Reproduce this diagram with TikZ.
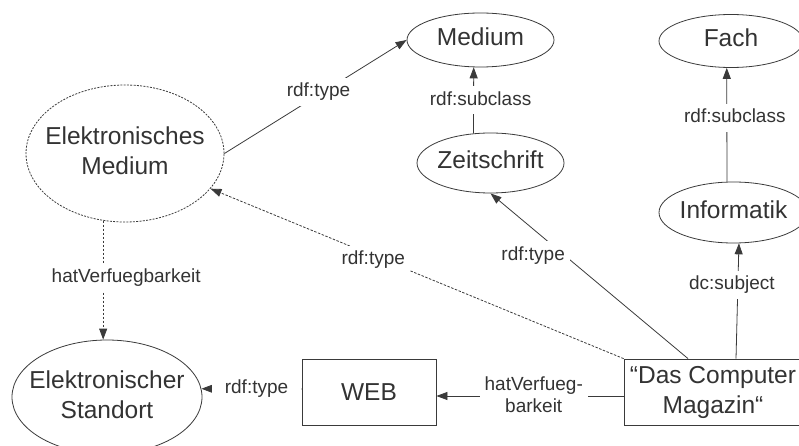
\documentclass[tikz,border=0pt]{standalone}
\usepackage{fontspec}
\setmainfont{Liberation Sans}
\usetikzlibrary{arrows.meta,shapes.geometric,calc}
\definecolor{ink}{HTML}{333333}
\definecolor{edge}{HTML}{3A3A3A}
% centred, zero-width text so the ellipse size comes from minimum width/height
\newcommand\ctext[1]{\makebox[0pt]{\begin{tabular}{@{}c@{}}#1\end{tabular}}}
\begin{document}
\begin{tikzpicture}[x=1pt,y=-1pt,
  every node/.style={text=ink},
  concept/.style={ellipse, draw=edge, line width=0.8pt, inner sep=0pt,
    font=\fontsize{24.5}{30}\selectfont},
  vconcept/.style={concept, dash pattern=on 2pt off 1.3pt},
  instance/.style={rectangle, draw=edge, line width=0.8pt, inner sep=0pt,
    align=center, font=\fontsize{24.5}{30}\selectfont},
  rel/.style={draw=edge, line width=0.8pt, -{Triangle[length=11pt,width=8pt]}},
  vrel/.style={rel, dash pattern=on 2.5pt off 1.5pt},
  lbl/.style={fill=white, inner sep=5pt, text height=14pt, text depth=4pt,
    font=\fontsize{19}{22}\selectfont},
  lbltwo/.style={fill=white, inner sep=5pt, align=center,
    font=\fontsize{19}{22}\selectfont}]
\clip (0,0) rectangle (799,446);

% classes
\node[concept, minimum width=147pt, minimum height=54pt] (med) at (480.5,40) {\ctext{Medium}};
\node[concept, minimum width=144pt, minimum height=53pt] (fach) at (731,41) {\ctext{Fach}};
\node[concept, minimum width=147pt, minimum height=60pt] (zs) at (490.5,163) {\ctext{Zeitschrift}};
\node[concept, minimum width=149pt, minimum height=61pt] (inf) at (733.5,212.5) {\ctext{Informatik}};
\node[vconcept, minimum width=198pt, minimum height=137pt] (em) at (125,153.5) {\ctext{Elektronisches\\Medium}};
\node[concept, minimum width=190pt, minimum height=114pt] (es) at (107,397) {\ctext{Elektronischer\\Standort}};

% instances
\node[instance, minimum width=134pt, minimum height=66pt] (web) at (369,392) {WEB};
\node[instance, minimum width=178pt, minimum height=66pt] (dcm) at (713,392) {“Das Computer\\Magazin“};

% relations
\draw[rel] (em.east) -- node[lbl, pos=.5, xshift=3pt, yshift=5pt] {rdf:type} (med.west);
\draw[rel] (zs.120) -- node[lbl, pos=.5, xshift=7pt] {rdf:subclass} (med.256);
\draw[rel] (inf.102) -- node[lbl, pos=.56, xshift=8pt] {rdf:subclass} (fach.261);
\draw[rel] ([xshift=23pt]dcm.north) -- node[lbl, pos=.64, xshift=-6pt] {dc:subject} (inf.280);
\draw[rel] ([xshift=-25pt]dcm.north) -- node[lbl, pos=.627, xshift=-31pt] {rdf:type} (zs.south);
\draw[vrel] (dcm.north west) -- node[lbl, pos=.606, yshift=-4pt] {rdf:type} (em);
\draw[vrel] (em.252) -- node[lbl, pos=.48, xshift=23pt] {hatVerfuegbarkeit} (em.252 |- es.north);
\draw[rel] ([yshift=-4pt]dcm.west) -- node[lbltwo, pos=.48, yshift=1pt] {hatVerfueg-\\barkeit} ([yshift=-4pt]web.east);
\draw[rel] ([yshift=3pt]web.west) -- node[lbl, pos=.45, inner xsep=13pt] {rdf:type} (es.5);
\end{tikzpicture}
\end{document}
